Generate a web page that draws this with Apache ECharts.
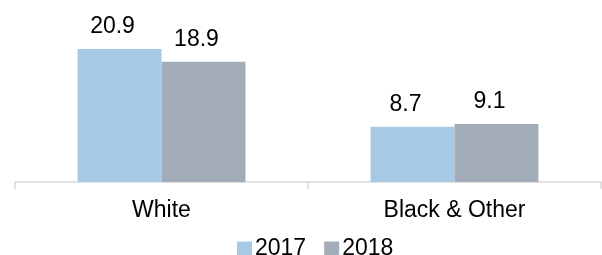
<!DOCTYPE html>
<html>
<head>
<meta charset="utf-8">
<script src="https://cdn.jsdelivr.net/npm/echarts@6/dist/echarts.min.js"></script>
<style>
  html, body { margin: 0; padding: 0; background: #fff; }
  #chart { width: 602px; height: 255px; }
</style>
</head>
<body>
<div id="chart"></div>
<script>
const categories = ['White', 'Black & Other']
const years = ['2017', '2018']
const values2017 = [20.9, 8.7]
const values2018 = [18.9, 9.1]

const font = 'Liberation Sans, Arial, sans-serif'

const labelStyle = {
  show: true,
  position: 'top',
  distance: 11,
  offset: [-7, 0],
  color: '#000',
  fontSize: 23,
  fontFamily: font
}

const option = {
  animation: false,
  grid: {
    left: 15,
    right: 1,
    top: 23,
    bottom: 73
  },
  legend: {
    data: years,
    left: 232,
    top: 232,
    itemWidth: 15,
    itemHeight: 14,
    itemGap: 18,
    icon: 'rect',
    textStyle: {
      color: '#000',
      fontSize: 23,
      fontFamily: font,
      padding: [0, 0, 0, -2]
    }
  },
  xAxis: {
    type: 'category',
    data: categories,
    axisLine: { lineStyle: { color: '#d9d9d9', width: 1.5 } },
    axisTick: { show: true, length: 7, lineStyle: { color: '#d9d9d9', width: 1.5 } },
    axisLabel: {
      margin: 17,
      color: '#000',
      fontSize: 23,
      fontFamily: font
    }
  },
  yAxis: {
    type: 'value',
    min: 0,
    max: 25,
    show: false
  },
  series: [
    {
      name: years[0],
      type: 'bar',
      data: values2017,
      barGap: '0%',
      barCategoryGap: '42.7%',
      itemStyle: { color: '#a6cae6' },
      label: labelStyle
    },
    {
      name: years[1],
      type: 'bar',
      data: values2018,
      barGap: '0%',
      barCategoryGap: '42.7%',
      itemStyle: { color: '#a3adb9' },
      label: labelStyle
    }
  ]
}

const chart = echarts.init(document.getElementById('chart'))
chart.setOption(option)
</script>
</body>
</html>
